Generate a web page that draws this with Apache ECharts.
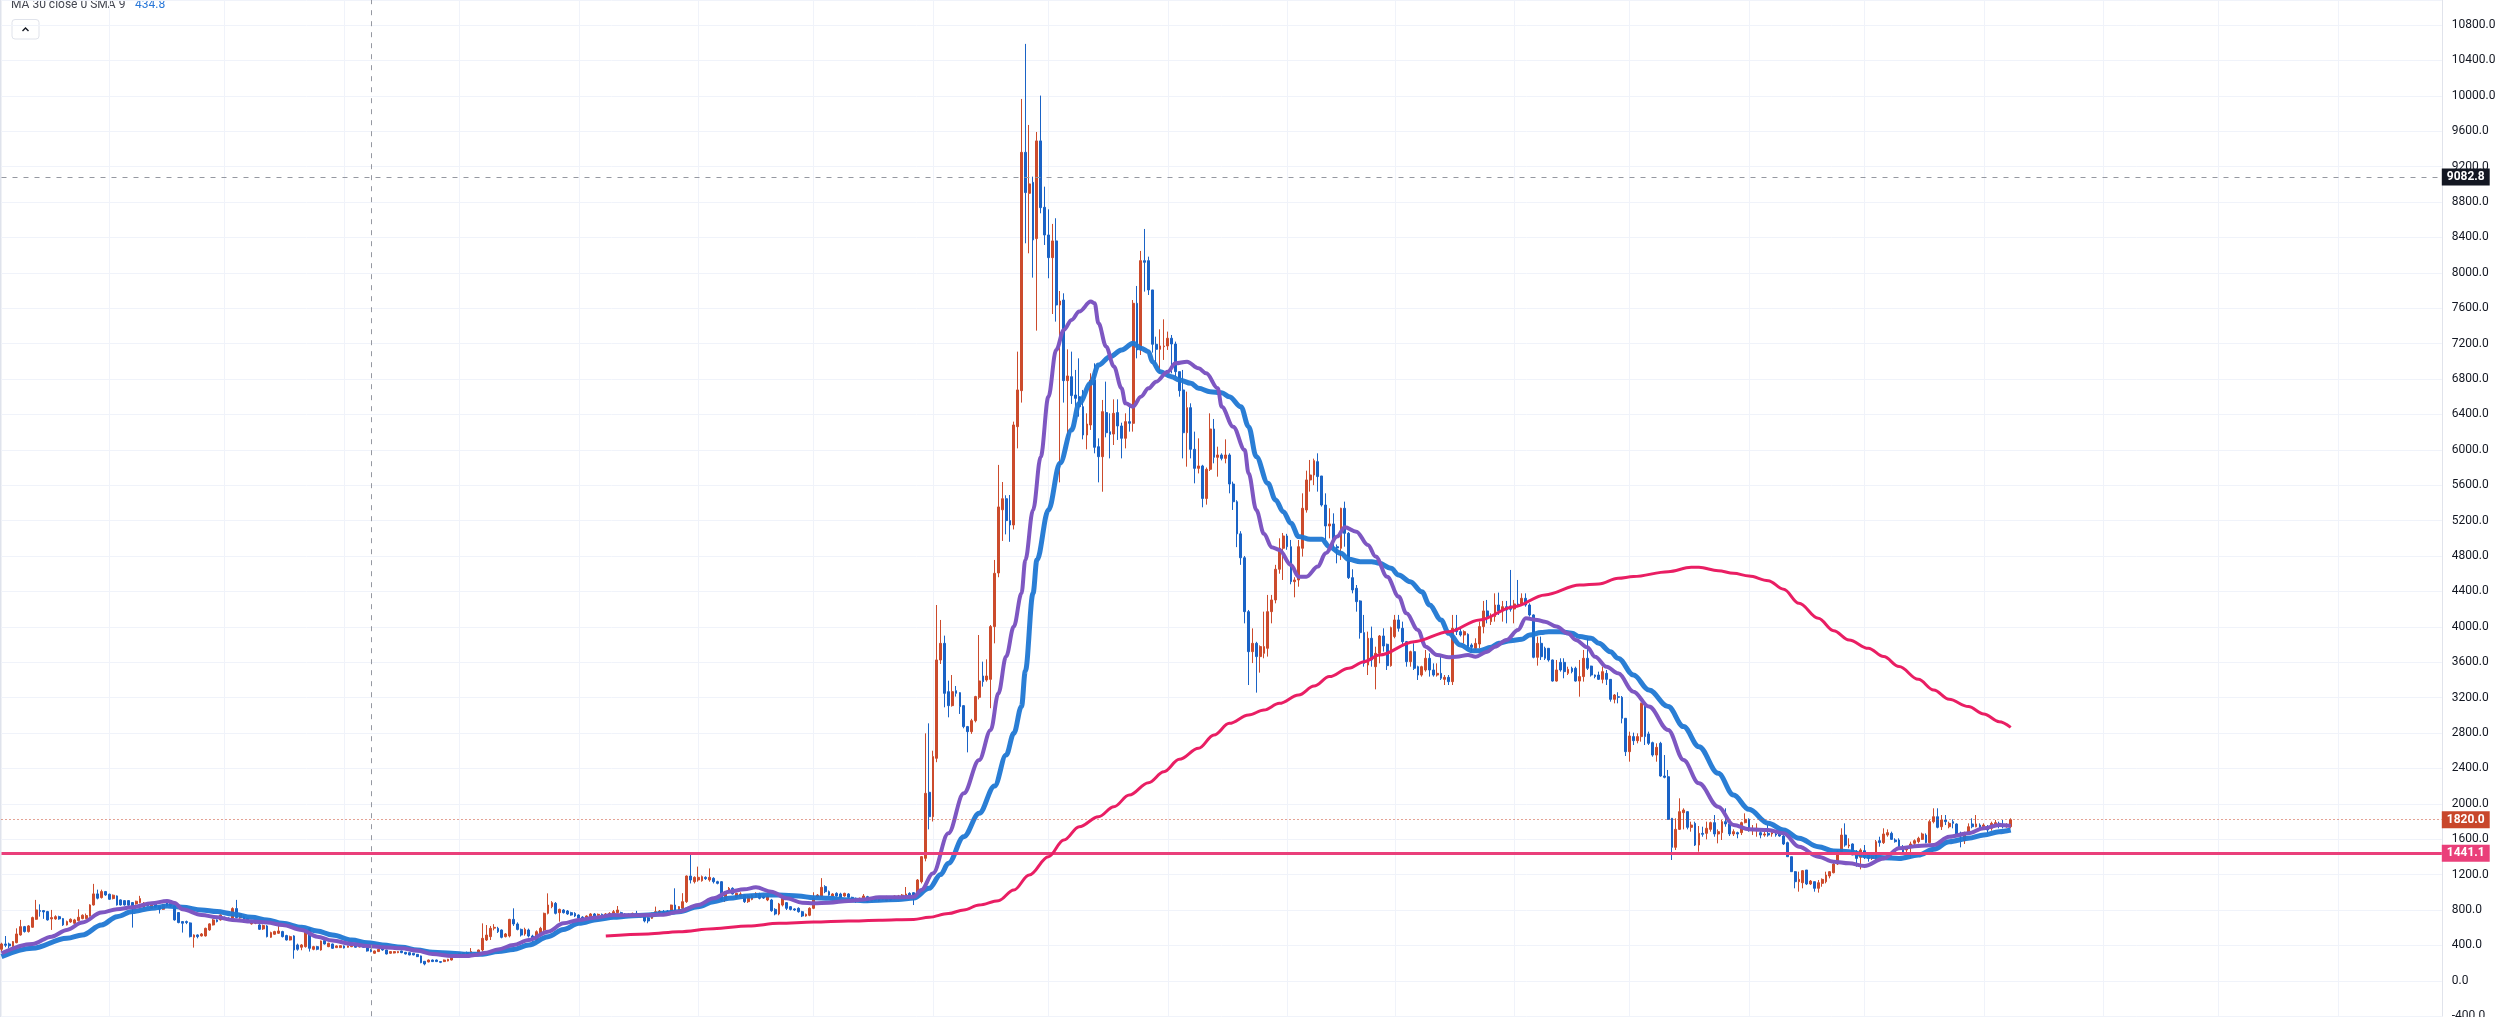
<!DOCTYPE html>
<html>
<head>
<meta charset="utf-8">
<title>MA 30 close 0 SMA 9</title>
<style>
  html, body { margin: 0; padding: 0; background: #ffffff; }
  #container { width: 2502px; height: 1017px; }
</style>
</head>
<body>
<div id="container"></div>
<script src="https://cdn.jsdelivr.net/npm/echarts@6/dist/echarts.min.js"></script>
<script>
// daily candles, first one on 2020-03-04; [open, close, low, high]
var firstDay = Date.UTC(2020, 2, 4);
var dayCount = 635;     // candles + empty space on the right
var dayOffset = 28;     // line points below are counted from 2020-04-01

// 4 Mar - 31 Mar
var bars1 = [
  [356, 416, 330, 430], [416, 401, 380, 506], [416, 394, 367, 431], [386, 443, 375, 450],
  [431, 529, 424, 593], [518, 612, 510, 688], [612, 556, 545, 620], [556, 620, 545, 630],
  [605, 714, 600, 725], [695, 801, 690, 914], [793, 785, 725, 864], [793, 778, 700, 800],
  [782, 688, 680, 790], [699, 714, 575, 801], [699, 725, 690, 740], [725, 699, 690, 735],
  [703, 631, 620, 710], [631, 669, 625, 680], [665, 695, 655, 705], [650, 688, 640, 700],
  [680, 718, 670, 808], [703, 741, 695, 750], [703, 737, 695, 760], [733, 857, 725, 865],
  [857, 982, 850, 1095], [982, 933, 920, 1030], [940, 1008, 930, 1030], [1008, 970, 960, 1015]
];
// 1 Apr - 6 Jul
var bars2 = [
  [978, 921, 915, 985], [929, 967, 920, 975], [959, 857, 850, 965], [914, 857, 850, 920],
  [906, 857, 850, 910], [906, 854, 845, 910], [884, 831, 601, 890], [869, 899, 860, 905],
  [884, 929, 875, 960], [831, 880, 825, 890], [876, 846, 840, 885], [820, 857, 815, 870],
  [876, 831, 825, 880], [846, 808, 760, 850], [808, 861, 800, 870], [884, 846, 840, 890],
  [876, 846, 830, 890], [846, 688, 680, 850], [771, 658, 650, 775], [669, 650, 545, 675],
  [669, 658, 640, 680], [654, 499, 490, 660], [492, 518, 375, 525], [518, 499, 480, 525],
  [507, 529, 500, 540], [507, 593, 500, 600], [575, 643, 565, 650], [631, 688, 625, 700],
  [688, 669, 660, 695], [688, 744, 680, 750], [718, 695, 690, 725], [710, 688, 680, 715],
  [710, 816, 700, 830], [816, 714, 705, 914], [710, 756, 700, 765], [725, 688, 680, 735],
  [703, 669, 660, 710], [643, 680, 635, 690], [650, 676, 640, 685], [631, 582, 575, 640],
  [586, 624, 575, 635], [620, 499, 490, 630], [492, 545, 485, 555], [526, 556, 520, 565],
  [537, 563, 530, 630], [556, 499, 490, 565], [511, 461, 455, 520], [461, 499, 455, 510],
  [507, 348, 250, 515], [405, 356, 340, 420], [379, 405, 345, 415], [386, 575, 375, 580],
  [593, 367, 330, 605], [356, 386, 345, 395], [386, 356, 345, 395], [348, 450, 340, 455],
  [454, 416, 410, 460], [386, 424, 380, 430], [416, 367, 360, 420], [375, 394, 370, 400],
  [375, 397, 370, 400], [394, 371, 365, 400], [379, 394, 375, 398], [386, 405, 380, 410],
  [394, 379, 375, 400], [382, 397, 378, 402], [397, 379, 375, 402], [375, 337, 330, 380],
  [356, 330, 322, 360], [311, 337, 305, 342], [330, 356, 325, 360], [367, 348, 340, 372],
  [348, 303, 298, 352], [311, 330, 305, 335], [314, 330, 310, 334], [318, 330, 312, 334],
  [337, 318, 312, 340], [322, 303, 298, 326], [318, 292, 288, 322], [311, 292, 288, 315],
  [299, 273, 268, 303], [281, 205, 198, 285], [220, 190, 175, 224], [213, 235, 208, 240],
  [235, 217, 212, 240], [235, 217, 212, 240], [217, 209, 200, 222], [217, 235, 212, 240],
  [224, 243, 220, 248], [235, 273, 230, 278], [273, 292, 268, 296], [292, 311, 288, 315],
  [299, 318, 295, 322], [318, 299, 295, 330], [303, 330, 298, 370], [314, 296, 290, 320],
  [311, 348, 305, 352]
];
// 7 Jul - 29 Oct
var bars3 = [
  [348, 480, 330, 649], [461, 517, 450, 630], [499, 593, 461, 620], [595, 604, 570, 640],
  [593, 555, 540, 610], [574, 491, 480, 580], [499, 529, 490, 540], [506, 694, 490, 700],
  [694, 642, 620, 819], [642, 581, 570, 660], [581, 517, 500, 590], [529, 581, 510, 600],
  [574, 506, 490, 590], [506, 461, 440, 520], [461, 555, 450, 570], [536, 593, 520, 610],
  [574, 762, 560, 770], [762, 856, 750, 988], [838, 883, 820, 900], [875, 762, 750, 890],
  [770, 807, 668, 815], [800, 770, 760, 810], [789, 755, 745, 800], [770, 743, 735, 780],
  [762, 732, 720, 775], [743, 706, 700, 750], [720, 710, 700, 730], [710, 732, 705, 740],
  [717, 755, 710, 765], [755, 732, 725, 765], [740, 751, 730, 760], [751, 740, 730, 760],
  [740, 755, 735, 765], [751, 762, 745, 775], [743, 781, 735, 800], [770, 800, 760, 845],
  [770, 755, 745, 780], [755, 745, 738, 765], [751, 732, 725, 760], [740, 762, 735, 770],
  [762, 732, 725, 790], [725, 743, 715, 750], [725, 676, 660, 730], [712, 676, 650, 720],
  [706, 762, 700, 770], [743, 781, 735, 838], [762, 789, 750, 800], [781, 755, 745, 800],
  [789, 762, 740, 800], [781, 856, 775, 860], [856, 800, 790, 1045], [800, 838, 780, 845],
  [819, 894, 810, 990], [894, 1184, 880, 1190], [1184, 1139, 1100, 1440], [1120, 1169, 1100, 1180],
  [1139, 1169, 1120, 1290], [1131, 1177, 1120, 1190], [1169, 1154, 1140, 1180], [1139, 1169, 1120, 1270],
  [1158, 1120, 1100, 1170], [1120, 1101, 1090, 1130], [1120, 913, 900, 1125], [913, 1007, 890, 1015],
  [1007, 1045, 990, 1060], [1045, 981, 975, 1056], [943, 988, 930, 995], [951, 981, 940, 1000],
  [969, 894, 880, 980], [894, 958, 880, 965], [920, 969, 910, 980], [951, 988, 940, 1000],
  [981, 932, 920, 995], [950, 935, 925, 965], [913, 951, 900, 965], [913, 792, 780, 925],
  [807, 755, 740, 820], [755, 868, 740, 880], [856, 932, 840, 980], [883, 819, 800, 890],
  [838, 807, 795, 845], [812, 800, 790, 820], [819, 781, 770, 830], [781, 732, 720, 790],
  [732, 751, 725, 760], [740, 819, 730, 830], [819, 932, 810, 1000], [951, 969, 940, 980],
  [958, 1056, 950, 1160], [1064, 1007, 990, 1080], [1007, 969, 960, 1020], [958, 981, 950, 990],
  [988, 958, 950, 1000], [981, 943, 935, 995], [958, 988, 950, 995], [981, 943, 935, 990],
  [943, 920, 910, 950], [932, 913, 880, 940], [913, 932, 905, 940], [932, 958, 920, 980],
  [951, 894, 885, 960], [905, 928, 895, 935], [932, 913, 905, 940], [905, 932, 895, 940],
  [920, 943, 910, 955], [905, 951, 895, 960], [951, 913, 905, 958], [932, 958, 920, 965],
  [943, 958, 935, 970], [958, 969, 950, 980], [969, 981, 960, 1060], [988, 966, 960, 1000],
  [996, 951, 856, 1000], [996, 1139, 980, 1150], [1120, 1403, 1100, 1410]
];
// 30 Oct - 22 Nov
var bars4 = [
  [1384, 2118, 1350, 2796], [2130, 1854, 1711, 2909], [1854, 2533, 1800, 2600], [2514, 3625, 2470, 4246],
  [3625, 3813, 3580, 4077], [3813, 3248, 3090, 3900], [3267, 3109, 2977, 3391], [3109, 3267, 3098, 3455],
  [3278, 3248, 3211, 3331], [3256, 3098, 3015, 3260], [3109, 2872, 2853, 3115], [2872, 2815, 2581, 2880],
  [2815, 2939, 2790, 2960], [2939, 3211, 2920, 3220], [3203, 3388, 3180, 3907], [3444, 3380, 3324, 3606],
  [3399, 3444, 3380, 3632], [3406, 4002, 3080, 4020], [4002, 4604, 3813, 4755], [4608, 5354, 4560, 5829],
  [5322, 5447, 4970, 5636], [5447, 5200, 5044, 5486], [5200, 5150, 4960, 5489], [5150, 6280, 5100, 6318]
];
// 23 Nov - 9 Jan
var bars5 = [
  [6261, 6676, 6016, 7109], [6668, 9361, 6533, 9964], [9361, 8906, 8333, 10586], [8898, 9004, 8220, 9670],
  [9022, 8371, 7945, 9086], [8386, 9490, 7346, 9591], [9490, 8736, 8672, 10002], [8740, 8427, 8314, 8973],
  [8427, 8171, 7938, 8717], [8171, 8360, 7534, 8552], [8360, 7636, 7448, 8616], [7636, 7681, 5632, 7794],
  [7692, 6781, 6533, 7768], [6781, 6834, 6111, 7135], [6826, 6612, 6518, 7109], [6619, 6581, 6487, 6902],
  [6600, 6487, 6374, 7033], [6487, 6167, 6118, 6676], [6167, 6291, 6005, 6412], [6280, 6789, 6224, 6864],
  [6789, 6028, 5960, 6977], [6035, 5922, 5632, 6129], [5922, 6431, 5526, 6563], [6420, 6193, 6141, 6770],
  [6204, 6174, 5903, 6412], [6178, 6412, 6054, 6570], [6420, 6269, 6111, 6570], [6269, 6130, 5903, 6306],
  [6130, 6318, 6016, 6412], [6318, 6299, 6205, 6487], [6299, 7655, 6205, 7692], [7655, 7128, 7033, 7851],
  [7135, 8137, 7071, 8247], [8137, 8118, 7787, 8495], [8137, 7806, 7749, 8182], [7806, 7192, 7098, 7806],
  [7192, 7135, 6977, 7278], [7135, 7173, 6864, 7361], [7165, 7173, 7015, 7474], [7173, 7260, 7128, 7335],
  [7260, 7195, 6864, 7297], [7195, 6883, 6826, 7222], [6883, 6668, 6600, 6883], [6676, 6193, 5903, 6902],
  [6193, 6476, 5809, 6657], [6476, 6005, 5903, 6525], [6005, 5790, 5621, 6205], [5790, 5817, 5733, 6129]
];
// 10 Jan - 30 Jan
var bars6 = [
  [5817, 5450, 5350, 5830], [5450, 5779, 5380, 5800], [5779, 6235, 5760, 6412], [6235, 5915, 5847, 6348],
  [5915, 5941, 5696, 6035], [5941, 5903, 5880, 5960], [5903, 5941, 5847, 6118], [5941, 5613, 5508, 5960],
  [5613, 5413, 5320, 5640], [5413, 5050, 4900, 5430], [5050, 4780, 4700, 5080], [4780, 4171, 4039, 4800],
  [4171, 3719, 3342, 4190], [3719, 3813, 3590, 3982], [3813, 3663, 3256, 3830], [3663, 3776, 3482, 3790],
  [3700, 3776, 3644, 4171], [3757, 4171, 3663, 4360], [4171, 4303, 4039, 4360], [4303, 4650, 4265, 4700],
  [4650, 4887, 4600, 5000]
];
// 31 Jan - 28 Apr
var bars7 = [
  [4887, 5026, 4529, 5060], [5026, 4905, 4870, 5050], [4905, 4510, 4480, 4981], [4510, 4529, 4333, 4560],
  [4529, 4905, 4453, 4981], [4887, 5339, 4793, 5508], [5320, 5659, 5290, 5764], [5659, 5715, 5527, 5885],
  [5715, 5877, 5600, 5900], [5866, 5697, 5527, 5960], [5704, 5376, 5358, 5704], [5376, 5139, 4981, 5508],
  [5139, 5162, 4999, 5339], [5162, 4981, 4887, 5282], [4905, 4890, 4717, 4930], [4887, 5339, 4755, 5345],
  [5339, 5056, 4905, 5414], [5056, 4555, 4540, 5070], [4555, 4416, 4378, 4650], [4435, 4284, 4171, 4472],
  [4292, 3934, 3866, 4300], [3934, 3587, 3549, 4134], [3568, 3870, 3455, 3945], [3870, 3625, 3549, 4002],
  [3549, 3700, 3293, 3775], [3700, 3896, 3587, 3907], [3896, 3783, 3719, 3983], [3802, 3561, 3512, 3810],
  [3561, 3990, 3549, 4002], [3889, 4077, 3870, 4134], [4077, 3983, 3945, 4134], [3983, 3832, 3794, 4058],
  [3832, 3606, 3549, 3840], [3606, 3719, 3549, 3730], [3719, 3531, 3512, 3813], [3549, 3455, 3399, 3560],
  [3455, 3549, 3437, 3560], [3512, 3644, 3493, 3738], [3644, 3512, 3437, 3700], [3512, 3455, 3437, 3587],
  [3455, 3474, 3437, 3587], [3474, 3418, 3399, 3662], [3406, 3429, 3342, 3455], [3429, 3380, 3342, 3455],
  [3380, 3983, 3342, 4134], [3983, 3945, 3907, 4134], [3945, 3907, 3890, 3983], [3907, 3945, 3813, 3960],
  [3915, 3775, 3757, 3926], [3794, 3768, 3719, 3813], [3757, 3813, 3738, 3870], [3805, 4002, 3757, 4058],
  [4002, 4179, 3926, 4292], [4179, 4096, 4039, 4303], [4058, 4122, 4020, 4152], [4115, 4246, 4058, 4378],
  [4246, 4179, 4134, 4386], [4179, 4227, 4058, 4292], [4227, 4190, 4039, 4292], [4235, 4197, 4171, 4642],
  [4201, 4258, 4039, 4303], [4258, 4246, 4227, 4529], [4258, 4322, 4246, 4378], [4322, 4246, 4227, 4378],
  [4246, 4134, 4115, 4265], [4134, 3655, 3644, 4140], [3655, 3813, 3561, 3889], [3813, 3662, 3625, 3889],
  [3757, 3644, 3625, 3775], [3757, 3625, 3606, 3760], [3625, 3387, 3380, 3630], [3387, 3512, 3380, 3625],
  [3598, 3512, 3493, 3644], [3598, 3493, 3418, 3644], [3474, 3519, 3455, 3549], [3531, 3493, 3474, 3549],
  [3531, 3387, 3380, 3549], [3387, 3437, 3210, 3625], [3437, 3644, 3380, 3738], [3644, 3531, 3512, 3870],
  [3556, 3455, 3437, 3560], [3455, 3437, 3418, 3460], [3455, 3406, 3399, 3493], [3406, 3493, 3361, 3549],
  [3474, 3406, 3342, 3512], [3406, 3180, 3154, 3410], [3180, 3229, 3135, 3240], [3210, 3203, 3135, 3260]
];
// 29 Apr - 8 Aug
var bars8 = [
  [3203, 2966, 2909, 3218], [2966, 2589, 2540, 2966], [2589, 2766, 2476, 2815], [2759, 2713, 2664, 2804],
  [2713, 2759, 2683, 2796], [2759, 3135, 2702, 3143], [3128, 2759, 2664, 3135], [2789, 2683, 2664, 2815],
  [2691, 2551, 2532, 2702], [2551, 2638, 2476, 2683], [2683, 2314, 2306, 2700], [2314, 2299, 2288, 2551],
  [2306, 1824, 1817, 2382], [1836, 1508, 1365, 1840], [1508, 1711, 1478, 1836], [1711, 1911, 1704, 2062],
  [1900, 1930, 1711, 1949], [1911, 1734, 1711, 1915], [1734, 1760, 1685, 1798], [1779, 1534, 1523, 1798],
  [1534, 1666, 1459, 1749], [1666, 1655, 1628, 1741], [1666, 1723, 1598, 1798], [1711, 1787, 1685, 1798],
  [1787, 1659, 1628, 1873], [1659, 1685, 1553, 1711], [1674, 1798, 1591, 1817], [1798, 1772, 1741, 1949],
  [1772, 1659, 1636, 1779], [1659, 1685, 1636, 1711], [1674, 1659, 1610, 1685], [1674, 1787, 1647, 1798],
  [1787, 1824, 1779, 1892], [1824, 1696, 1685, 1836], [1696, 1711, 1647, 1760], [1696, 1723, 1628, 1779],
  [1674, 1647, 1610, 1704], [1647, 1659, 1628, 1685], [1666, 1647, 1628, 1760], [1659, 1674, 1628, 1711],
  [1659, 1647, 1628, 1704], [1659, 1636, 1628, 1685], [1636, 1546, 1534, 1647], [1561, 1402, 1402, 1572],
  [1402, 1233, 1233, 1402], [1233, 1120, 1045, 1240], [1120, 1146, 1007, 1233], [1108, 1244, 1045, 1252],
  [1252, 1094, 1082, 1252], [1094, 1127, 1082, 1139], [1120, 1045, 1007, 1120], [1045, 1108, 996, 1139],
  [1101, 1146, 1063, 1157], [1120, 1195, 1101, 1233], [1184, 1233, 1157, 1240], [1221, 1319, 1214, 1346],
  [1319, 1459, 1308, 1478], [1459, 1647, 1440, 1723], [1647, 1534, 1515, 1779], [1523, 1534, 1497, 1610],
  [1546, 1421, 1421, 1553], [1448, 1383, 1289, 1478], [1395, 1478, 1259, 1497], [1470, 1395, 1376, 1534],
  [1421, 1383, 1346, 1440], [1383, 1408, 1365, 1440], [1383, 1572, 1365, 1591], [1583, 1561, 1515, 1628],
  [1561, 1659, 1546, 1723], [1647, 1674, 1628, 1711], [1666, 1598, 1591, 1685], [1591, 1572, 1561, 1610],
  [1591, 1508, 1485, 1610], [1515, 1448, 1433, 1534], [1478, 1515, 1440, 1523], [1508, 1546, 1383, 1572],
  [1553, 1583, 1515, 1598], [1572, 1610, 1553, 1628], [1598, 1659, 1591, 1674], [1647, 1561, 1553, 1666],
  [1561, 1798, 1553, 1817], [1798, 1854, 1779, 1949], [1854, 1734, 1723, 1949], [1741, 1817, 1704, 1873],
  [1817, 1798, 1760, 1873], [1741, 1779, 1723, 1798], [1798, 1779, 1723, 1824], [1772, 1659, 1647, 1779],
  [1666, 1636, 1508, 1685], [1583, 1666, 1546, 1685], [1666, 1741, 1666, 1779], [1772, 1741, 1723, 1836],
  [1741, 1772, 1734, 1873], [1760, 1723, 1704, 1779], [1741, 1760, 1711, 1779], [1741, 1704, 1674, 1760],
  [1723, 1779, 1696, 1798], [1760, 1787, 1741, 1817], [1779, 1749, 1723, 1798], [1760, 1741, 1723, 1817],
  [1741, 1760, 1730, 1780], [1741, 1820, 1723, 1836]
];

// moving averages: [day since 1 Apr, value]
var ma30 = [
  [-28, 273], [-20, 367], [-11, 480], [-7, 518], [-2, 631], [2, 725], [6, 782], [11, 820], [15, 846],
  [19, 831], [24, 801], [28, 782], [32, 756], [37, 718], [41, 688], [45, 650], [50, 605], [54, 563],
  [58, 518], [63, 461], [67, 431], [71, 405], [76, 379], [80, 348], [84, 322], [89, 311], [93, 299],
  [97, 300], [101, 330], [105, 355], [109, 404], [114, 499], [118, 581], [122, 649], [127, 694],
  [131, 717], [135, 732], [140, 743], [144, 762], [148, 781], [153, 838], [157, 894], [161, 932],
  [166, 958], [170, 969], [174, 969], [179, 958], [183, 939], [187, 932], [192, 913], [196, 905],
  [200, 910], [205, 920], [209, 935], [213, 1045], [216, 1200], [218, 1327], [222, 1628], [226, 1892],
  [230, 2200], [233, 2550], [235, 2796], [237, 3100], [238, 3500], [240, 4378], [241, 4755], [244, 5320],
  [247, 5847], [250, 6224], [252, 6525], [255, 6751], [257, 6958], [260, 7052], [263, 7128], [266, 7203],
  [268, 7147], [270, 7109], [271, 6996], [273, 6883], [276, 6826], [278, 6789], [281, 6751], [283, 6694],
  [286, 6657], [289, 6645], [291, 6600], [294, 6487], [296, 6261], [298, 5922], [301, 5621], [303, 5433],
  [305, 5300], [307, 5169], [309, 5019], [312, 4988], [315, 4988], [317, 4905], [320, 4830], [322, 4762],
  [325, 4736], [328, 4736], [330, 4717], [333, 4661], [335, 4585], [338, 4510], [341, 4397], [343, 4246],
  [346, 4077], [348, 3926], [351, 3794], [354, 3730], [356, 3730], [359, 3768], [361, 3813], [364, 3843],
  [367, 3858], [369, 3907], [372, 3934], [374, 3945], [377, 3945], [380, 3926], [382, 3889], [385, 3870],
  [387, 3813], [390, 3719], [392, 3644], [396, 3455], [400, 3286], [405, 3098], [409, 2872], [413, 2645],
  [418, 2344], [422, 2099], [426, 1937], [431, 1779], [435, 1704], [439, 1610], [444, 1515], [448, 1466],
  [452, 1459], [457, 1410], [461, 1391], [465, 1383], [470, 1421], [474, 1485], [478, 1572], [483, 1610],
  [487, 1647], [491, 1685], [494, 1704]
];
var ma9 = [
  [-28, 311], [-20, 416], [-15, 499], [-11, 575], [-7, 658], [-2, 771], [2, 808], [6, 831], [11, 876],
  [15, 903], [17, 880], [19, 808], [24, 744], [28, 718], [32, 688], [37, 669], [41, 658], [45, 631],
  [50, 575], [54, 499], [58, 454], [63, 416], [67, 394], [71, 379], [76, 367], [80, 341], [84, 303],
  [89, 281], [93, 281], [95, 292], [98, 318], [101, 355], [105, 404], [109, 461], [114, 555], [118, 649],
  [122, 687], [126, 713], [131, 743], [135, 740], [140, 743], [144, 747], [148, 781], [153, 856],
  [157, 932], [161, 1007], [165, 1033], [168, 1056], [172, 1007], [176, 932], [180, 883], [183, 875],
  [187, 883], [192, 902], [196, 920], [200, 943], [205, 943], [209, 950], [211, 1026], [214, 1214],
  [218, 1666], [222, 2118], [226, 2495], [229, 2834], [231, 3248], [233, 3663], [235, 4002], [237, 4378],
  [238, 4755], [240, 5320], [242, 5922], [244, 6600], [246, 7128], [248, 7354], [250, 7467], [252, 7561],
  [255, 7674], [256, 7655], [257, 7429], [259, 7165], [261, 6940], [263, 6694], [264, 6525], [266, 6487],
  [268, 6600], [270, 6694], [272, 6770], [275, 6883], [277, 6977], [280, 6996], [283, 6921], [285, 6864],
  [288, 6694], [289, 6487], [292, 6261], [295, 5997], [296, 5734], [298, 5320], [300, 5050], [302, 4900],
  [304, 4868], [307, 4698], [309, 4566], [311, 4566], [314, 4680], [316, 4830], [319, 5019], [321, 5124],
  [324, 5075], [327, 4924], [329, 4793], [332, 4566], [335, 4341], [337, 4152], [340, 3964], [342, 3775],
  [345, 3681], [348, 3655], [350, 3662], [353, 3681], [355, 3662], [358, 3719], [360, 3775], [363, 3851],
  [366, 3964], [368, 4096], [371, 4077], [373, 4058], [376, 4002], [379, 3926], [381, 3851], [384, 3768],
  [386, 3662], [389, 3549], [392, 3474], [396, 3267], [400, 3098], [405, 2834], [409, 2495], [413, 2231],
  [418, 1967], [422, 1760], [426, 1711], [431, 1704], [435, 1666], [439, 1515], [444, 1402], [448, 1346],
  [452, 1327], [456, 1297], [461, 1383], [465, 1497], [470, 1523], [474, 1534], [478, 1628], [483, 1666],
  [487, 1723], [491, 1760], [494, 1749]
];
var ma200 = [
  [129, 506], [140, 529], [148, 555], [157, 589], [166, 619], [174, 649], [183, 664], [192, 676],
  [200, 683], [209, 694], [213, 717], [218, 760], [222, 800], [226, 856], [231, 905], [235, 1026],
  [239, 1195], [244, 1402], [248, 1591], [252, 1741], [257, 1854], [261, 1967], [265, 2099], [270, 2239],
  [274, 2363], [278, 2502], [283, 2627], [287, 2777], [291, 2909], [296, 3003], [300, 3060], [304, 3135],
  [309, 3229], [313, 3330], [317, 3437], [322, 3531], [326, 3606], [330, 3680], [339, 3832], [348, 3945],
  [356, 4077], [365, 4227], [373, 4360], [382, 4472], [387, 4484], [392, 4548], [396, 4567], [405, 4623],
  [411, 4672], [413, 4672], [418, 4634], [422, 4604], [426, 4574], [431, 4521], [435, 4424], [439, 4265],
  [444, 4096], [448, 3956], [452, 3851], [457, 3757], [461, 3663], [465, 3550], [470, 3406], [474, 3286],
  [478, 3180], [483, 3098], [487, 3015], [491, 2928], [494, 2864]
];

var lastPrice = 1820.0;
var levelPrice = 1441.1;
var crossPrice = 9082.8;
var crossDay = 68;
var legendName = 'MA 30 close 0 SMA 9';
var legendValue = '434.8';

var upColor = '#cc4b2c';
var downColor = '#1a63c6';

var ohlc = bars1.concat(bars2, bars3, bars4, bars5, bars6, bars7, bars8);

var dates = [];
for (var i = 0; i < dayCount; i++) {
  dates.push(new Date(firstDay + i * 864e5).toISOString().slice(0, 10));
}

function toIndex(list) {
  return list.map(function (p) { return [p[0] + dayOffset, p[1]]; });
}

function priceTag(value, text, bg, line) {
  return {
    yAxis: value,
    lineStyle: line,
    label: {
      show: true,
      position: 'end',
      distance: 0,
      formatter: text,
      color: '#ffffff',
      fontWeight: 'bold',
      fontSize: 12,
      fontFamily: 'Roboto',
      backgroundColor: bg,
      padding: [3, 5, 2, 5]
    }
  };
}

var chart = echarts.init(document.getElementById('container'));
chart.setOption({
  animation: false,
  backgroundColor: '#ffffff',
  grid: {
    left: 1.5,
    right: 60.2,
    top: 0,
    bottom: 0.8,
    containLabel: false,
    outerBoundsMode: 'none'
  },
  xAxis: {
    type: 'category',
    data: dates,
    boundaryGap: false,
    axisLine: { show: false },
    axisTick: { show: false },
    axisLabel: { show: false },
    splitLine: {
      show: true,
      interval: function (idx) { return dates[idx].slice(8) === '01'; },
      lineStyle: { color: '#f0f3fa', width: 1 }
    }
  },
  yAxis: {
    type: 'value',
    position: 'right',
    min: -400,
    max: 11082,
    interval: 400,
    scale: false,
    axisLine: { show: true, lineStyle: { color: '#e0e3eb', width: 1 } },
    axisTick: { show: false },
    axisLabel: {
      color: '#131722',
      fontSize: 12,
      fontFamily: 'Roboto',
      margin: 10,
      showMaxLabel: false,
      formatter: function (v) { return v.toFixed(1); }
    },
    splitLine: { lineStyle: { color: '#f0f3fa', width: 1 } }
  },
  graphic: [
    { type: 'rect', shape: { x: 0, y: 0, width: 1.5, height: 1017 }, style: { fill: '#dfe3ec' }, silent: true },
    { type: 'text', x: 11, y: -1, style: { text: legendName, fill: '#434651', font: '12px Roboto' }, silent: true },
    { type: 'text', x: 135, y: -1, style: { text: legendValue, fill: '#2a78d8', font: '12px Roboto' }, silent: true },
    { type: 'rect', shape: { x: 12, y: 19.5, width: 27, height: 19.5, r: 3 }, style: { fill: '#ffffff', stroke: '#e0e3eb', lineWidth: 1 }, silent: true },
    { type: 'polyline', shape: { points: [[22.5, 31], [25.5, 28], [28.5, 31]] }, style: { stroke: '#131722', lineWidth: 1.4, fill: null }, silent: true }
  ],
  series: [
    {
      type: 'candlestick',
      data: ohlc,
      barWidth: 2.3,
      clip: false,
      itemStyle: {
        color: upColor,
        color0: downColor,
        borderColor: upColor,
        borderColor0: downColor,
        borderWidth: 1
      }
    },
    {
      type: 'line',
      data: toIndex(ma30),
      smooth: 0.35,
      smoothMonotone: 'x',
      showSymbol: false,
      lineStyle: { color: '#1f77d3', width: 5, opacity: 0.95 },
      z: 3
    },
    {
      type: 'line',
      data: toIndex(ma9),
      smooth: 0.35,
      smoothMonotone: 'x',
      showSymbol: false,
      lineStyle: { color: '#7e57c2', width: 4 },
      z: 4
    },
    {
      type: 'line',
      data: toIndex(ma200),
      smooth: 0.35,
      smoothMonotone: 'x',
      showSymbol: false,
      lineStyle: { color: '#e91e63', width: 3 },
      z: 5,
      markLine: {
        silent: true,
        symbol: 'none',
        animation: false,
        data: [
          priceTag(crossPrice, crossPrice.toFixed(1), '#131722', { color: '#9598a1', width: 1, type: [5, 6] }),
          priceTag(lastPrice, lastPrice.toFixed(1), '#c8472b', { color: '#c8472b', width: 1, type: [1, 3] }),
          priceTag(levelPrice, levelPrice.toFixed(1), '#ea3f7a', { color: '#ea3f7a', width: 3, type: 'solid' }),
          { xAxis: crossDay + dayOffset, lineStyle: { color: '#9598a1', width: 1, type: [5, 6] }, label: { show: false } }
        ]
      }
    }
  ]
});
window.onresize = chart.resize;
</script>
</body>
</html>
